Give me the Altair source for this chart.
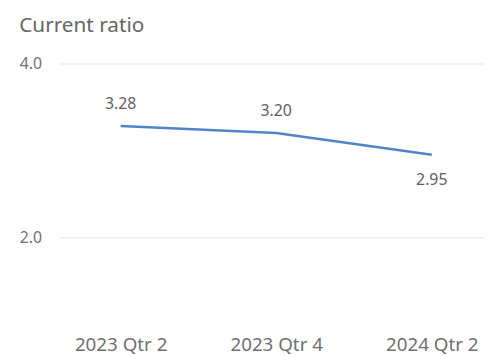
import altair as alt
import pandas as pd

quarters = ["2023 Qtr 2", "2023 Qtr 4", "2024 Qtr 2"]
ratios = [3.28, 3.20, 2.95]
label_pos = ["above", "above", "below"]

df = pd.DataFrame({"quarter": quarters, "ratio": ratios, "pos": label_pos})

FONT = "Noto Sans"

x = alt.X("quarter:N", sort=quarters, title=None,
          scale=alt.Scale(type="point", padding=0.365, align=0.54),
          axis=alt.Axis(labelAngle=0, labelFontSize=19, labelColor="#707070", labelFont=FONT,
                        domain=False, ticks=False, labelPadding=12, grid=False))
y = alt.Y("ratio:Q", title=None,
          scale=alt.Scale(domain=[1, 4], nice=False, zero=False),
          axis=alt.Axis(values=[2, 4], format=".1f", labelFontSize=16, labelColor="#707070",
                        labelFont=FONT, domain=False, ticks=False, labelPadding=18,
                        gridColor="#ececec", gridWidth=1.5))

base = alt.Chart(df)

line = base.mark_line(color="#4f85c8", strokeWidth=2.5).encode(x=x, y=y)

above = base.transform_filter(alt.datum.pos == "above").mark_text(
    dy=-22, fontSize=16, color="#606060", font=FONT
).encode(x=x, y=y, text=alt.Text("ratio:Q", format=".2f"))

below = base.transform_filter(alt.datum.pos == "below").mark_text(
    dy=26, fontSize=16, color="#606060", font=FONT
).encode(x=x, y=y, text=alt.Text("ratio:Q", format=".2f"))

chart = alt.layer(line, above, below).properties(
    width=430, height=264,
    title=alt.TitleParams("Current ratio", anchor="start", fontSize=21, font=FONT,
                          fontWeight="normal", color="#666666", offset=20),
    autosize=alt.AutoSizeParams(type="none"),
    padding={"left": 52, "top": 54, "right": 0, "bottom": 34},
).configure_view(stroke=None)

chart.save("out.html", embed_options={"renderer": "svg", "actions": False})
